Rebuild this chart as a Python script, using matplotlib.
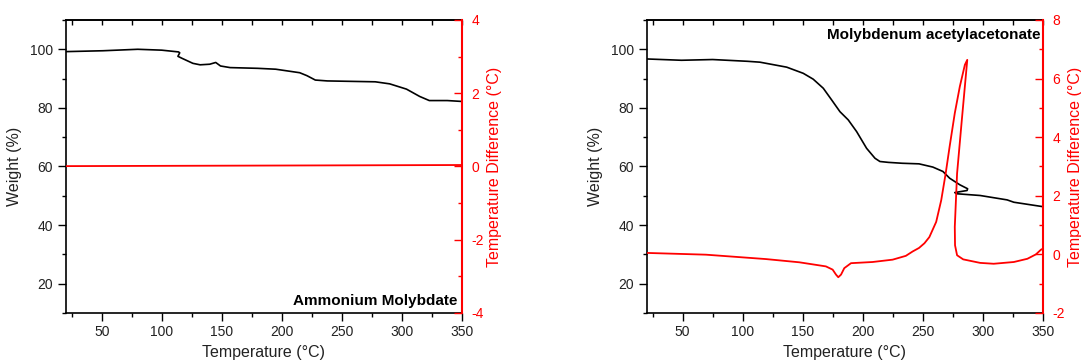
import matplotlib
matplotlib.use("Agg")
import matplotlib.pyplot as plt
from matplotlib.ticker import MultipleLocator

plt.rcParams["font.family"] = ["Liberation Sans", "DejaVu Sans"]
plt.rcParams["axes.unicode_minus"] = False

RED = "#ff0000"
TEXT = "#222222"

# Ammonium molybdate: TGA weight and DTA signal
amm_temp = [20, 51, 80, 100, 114, 115, 113.5, 117, 126, 132, 140, 145, 149,
            157, 180, 195, 215, 221, 228, 238, 278, 290, 304, 315, 323, 338, 350]
amm_weight = [99.2, 99.5, 100.0, 99.7, 99.1, 98.8, 97.6, 96.9, 95.2, 94.7, 94.9,
              95.5, 94.3, 93.75, 93.5, 93.2, 92.0, 91.0, 89.5, 89.2, 88.9, 88.2,
              86.4, 83.9, 82.5, 82.5, 82.2]
amm_dta_temp = [20, 130, 240, 350]
amm_dta = [0.01, 0.02, 0.03, 0.04]

# Molybdenum acetylacetonate: TGA weight and DTA signal
acac_temp = [20, 49, 75, 104, 114.4, 136.7, 150.5, 158.8, 167.2, 174.2, 181.1,
             188, 195, 203.3, 210.3, 214.4, 221.5, 233, 247, 258.5, 266.9, 272.5,
             281, 287.5, 287, 276.8, 278.2, 297.9, 320.4, 326, 350]
acac_weight = [96.7, 96.25, 96.5, 95.9, 95.6, 93.9, 91.8, 89.8, 86.7, 82.7, 78.7,
               75.9, 71.9, 66.2, 62.8, 61.7, 61.4, 61.1, 60.9, 59.8, 58.3, 56.0,
               53.75, 52.4, 51.8, 51.1, 50.7, 50.1, 48.6, 47.8, 46.3]
acac_dta_temp = [20, 69.4, 119.4, 147.2, 169.4, 175, 177.8, 179.7, 182, 184.7,
                 190.3, 208.3, 225, 236, 241.7, 247, 251.5, 255.6, 261.3, 265.5,
                 269.2, 272.5, 276.8, 281, 285.2, 287.2, 282.4, 278.7, 276.8, 277,
                 278.7, 283.8, 297.9, 309.2, 326, 337.3, 344.4, 348.6, 350]
acac_dta = [0.05, -0.01, -0.16, -0.27, -0.41, -0.52, -0.69, -0.78, -0.69, -0.47,
            -0.30, -0.26, -0.18, -0.05, 0.10, 0.22, 0.38, 0.59, 1.11, 1.85, 2.76,
            3.68, 4.82, 5.73, 6.47, 6.64, 4.47, 2.76, 0.94, 0.31, -0.03, -0.17,
            -0.29, -0.32, -0.26, -0.15, 0.0, 0.16, 0.19]


def draw_panel(rect, temp, weight, dta_temp, dta, dta_lim, dta_major, label, label_pos):
    ax = fig.add_axes(rect)
    ax.plot(temp, weight, color="black", lw=1.2)
    ax.set_xlim(20, 350)
    ax.set_ylim(10, 110)
    ax.xaxis.set_major_locator(MultipleLocator(50))
    ax.xaxis.set_minor_locator(MultipleLocator(25))
    ax.yaxis.set_major_locator(MultipleLocator(20))
    ax.yaxis.set_minor_locator(MultipleLocator(10))
    ax.set_xticks([50, 100, 150, 200, 250, 300, 350])
    ax.tick_params(axis="both", which="major", direction="out", length=5.5,
                   width=1, labelsize=10, labelcolor=TEXT)
    ax.tick_params(axis="both", which="minor", direction="out", length=3, width=1)
    ax.spines["right"].set_visible(False)
    for side in ["left", "bottom", "top"]:
        ax.spines[side].set_linewidth(1.2)
    ax.set_xlabel("Temperature (°C)", fontsize=11.5, color=TEXT, labelpad=4)
    ax.set_ylabel("Weight (%)", fontsize=11.5, color=TEXT, labelpad=6)

    # inward ticks along the top edge
    top = ax.secondary_xaxis("top")
    top.xaxis.set_major_locator(MultipleLocator(50))
    top.xaxis.set_minor_locator(MultipleLocator(25))
    top.tick_params(which="both", direction="in", length=3.5, width=1, labeltop=False)
    top.spines["top"].set_linewidth(1.2)

    ax2 = ax.twinx()
    ax2.plot(dta_temp, dta, color=RED, lw=1.3)
    ax2.set_ylim(*dta_lim)
    ax2.yaxis.set_major_locator(MultipleLocator(dta_major))
    ax2.yaxis.set_minor_locator(MultipleLocator(dta_major / 2))
    ax2.tick_params(axis="y", which="major", direction="in", length=5.5, width=1,
                    colors=RED, labelsize=10, pad=7)
    ax2.tick_params(axis="y", which="minor", direction="in", length=3, width=1,
                    colors=RED)
    ax2.spines["right"].set_color(RED)
    ax2.spines["right"].set_linewidth(1.5)
    for side in ["left", "bottom", "top"]:
        ax2.spines[side].set_visible(False)
    ax2.set_ylabel("Temperature Difference (°C)", fontsize=11.5, color=RED, labelpad=2)

    ax.text(label_pos[0], label_pos[1], label, transform=ax.transAxes,
            ha="right", va="center", fontsize=11, fontweight="bold", color="black")
    return ax, ax2


fig = plt.figure(figsize=(10.81, 3.62), dpi=100)

draw_panel([0.0608, 0.1354, 0.3663, 0.8094], amm_temp, amm_weight,
           amm_dta_temp, amm_dta, (-4, 4), 2, "Ammonium Molybdate", (0.99, 0.04))
draw_panel([0.5982, 0.1354, 0.3663, 0.8094], acac_temp, acac_weight,
           acac_dta_temp, acac_dta, (-2, 8), 2, "Molybdenum acetylacetonate",
           (0.995, 0.95))

plt.savefig("out.png", dpi=100)
